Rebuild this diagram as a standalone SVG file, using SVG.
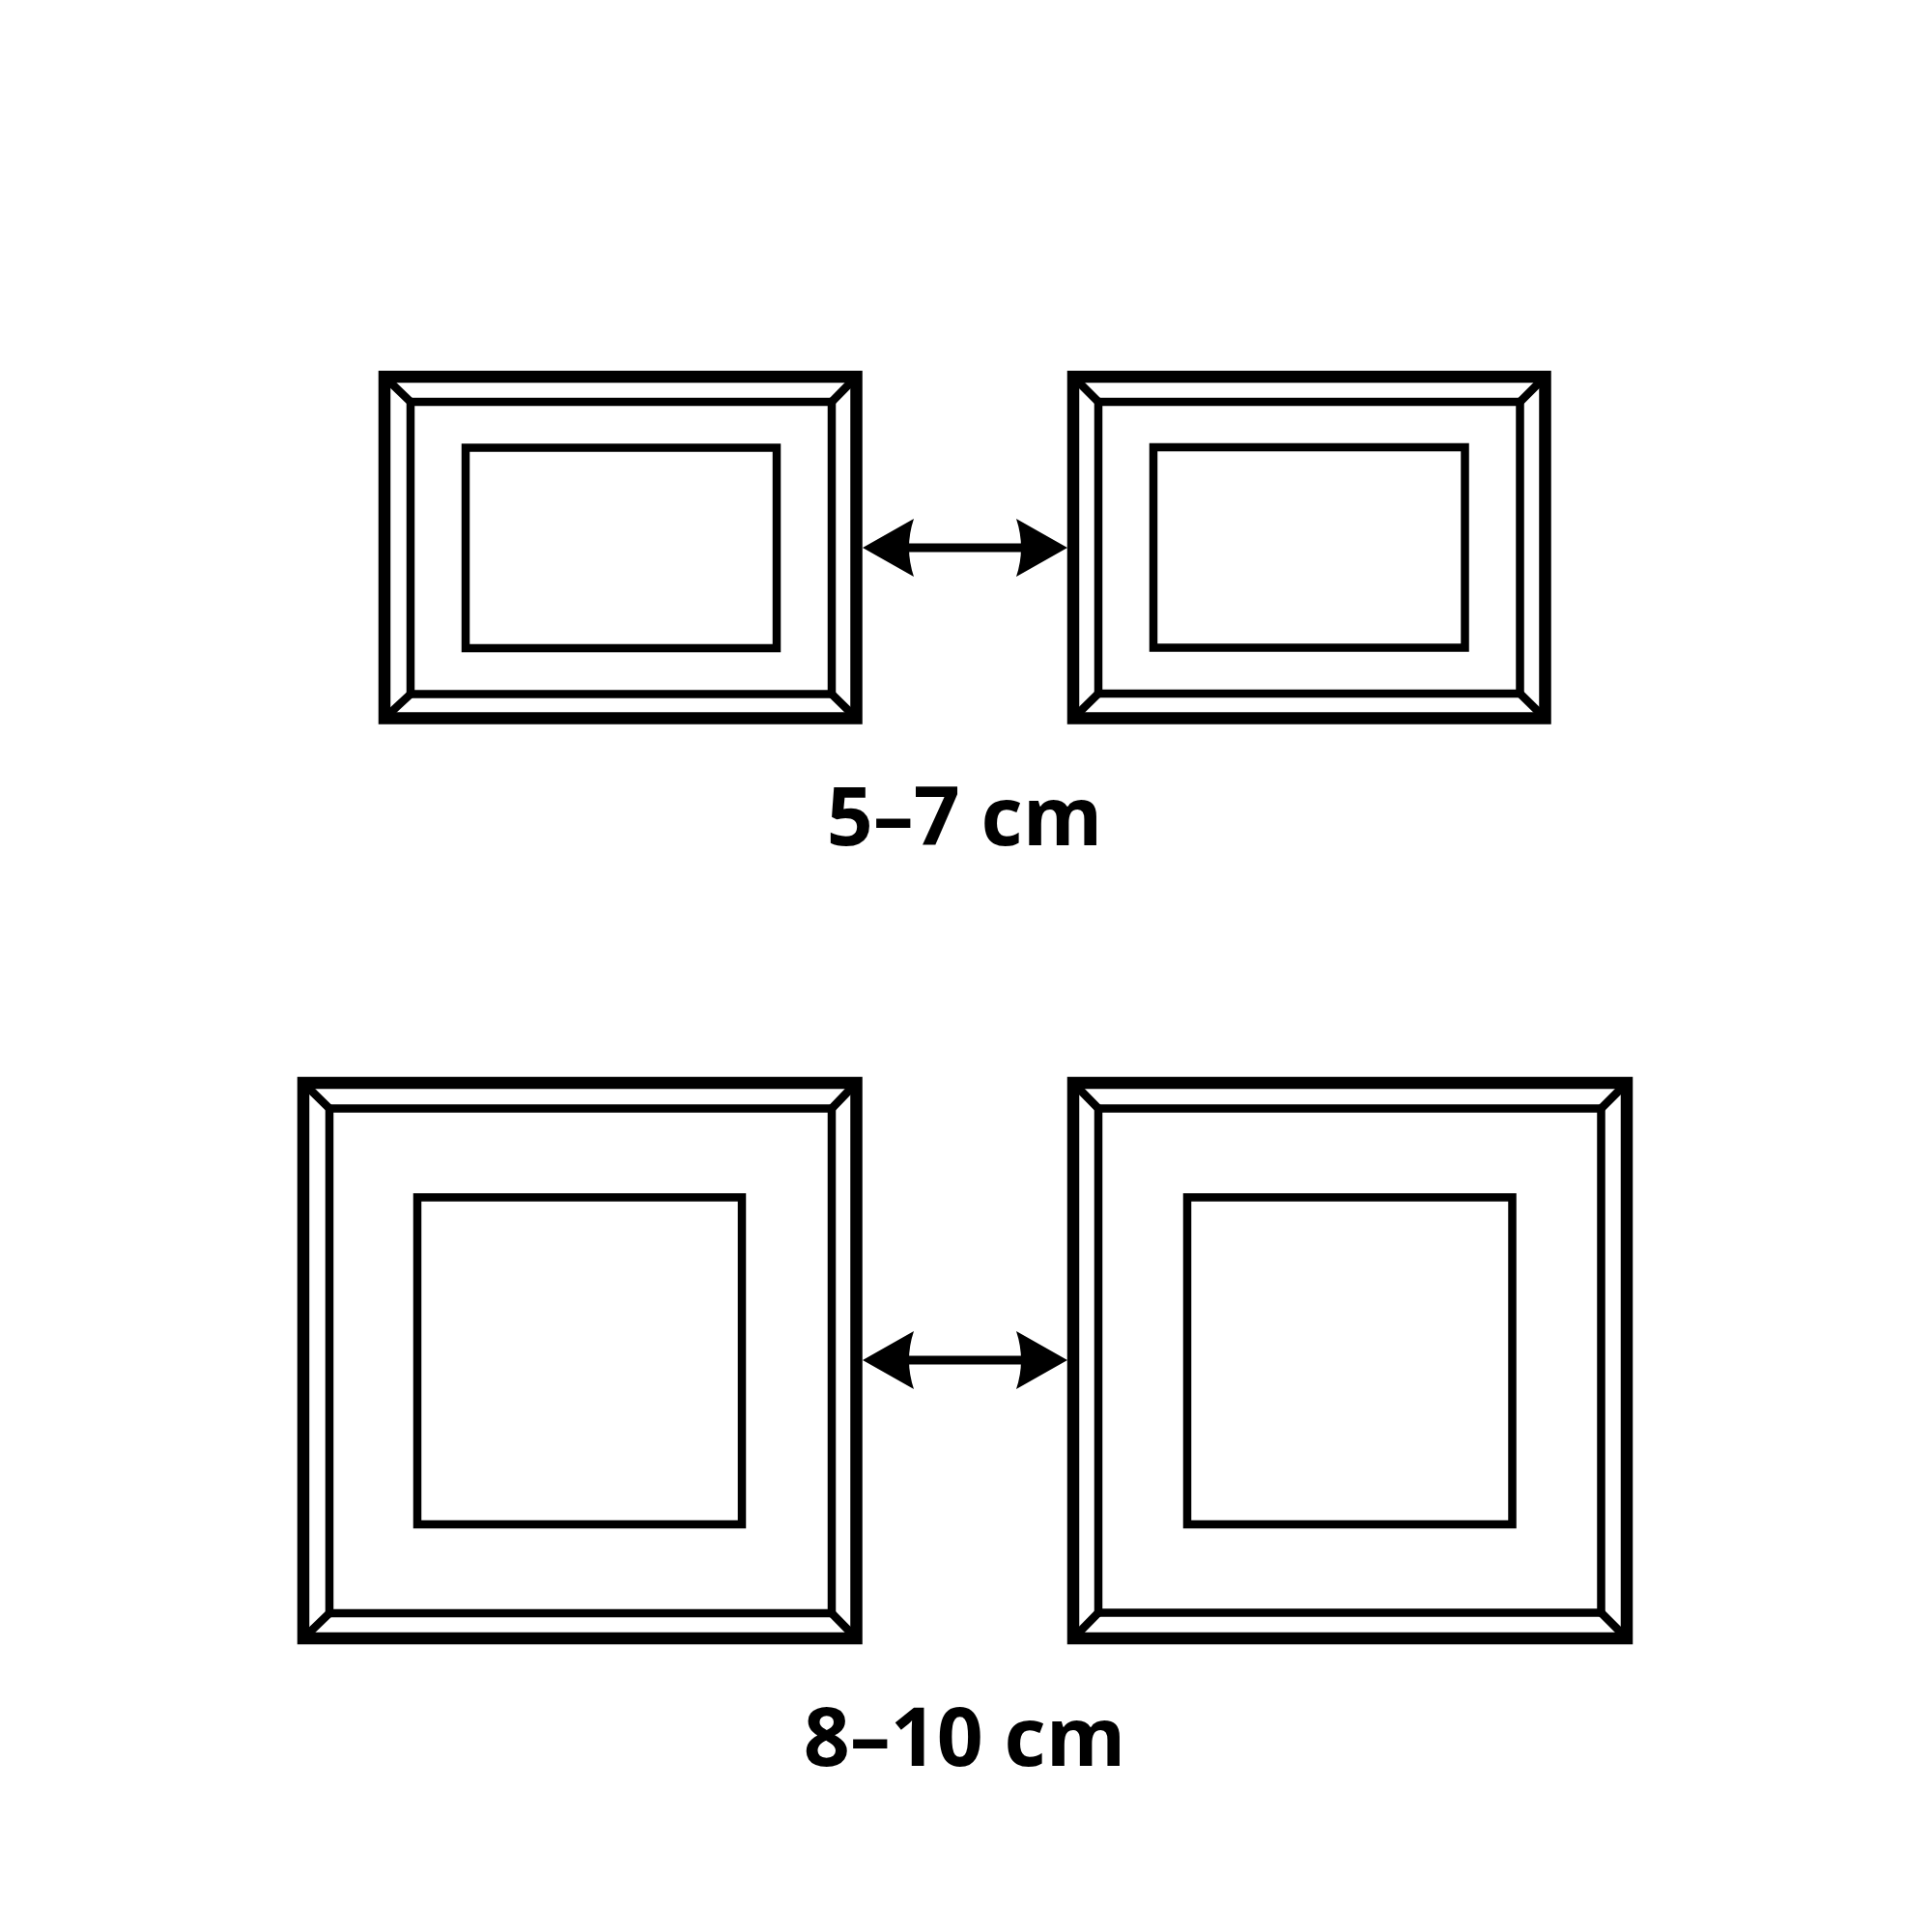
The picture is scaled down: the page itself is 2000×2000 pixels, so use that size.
<svg xmlns="http://www.w3.org/2000/svg" width="2000" height="2000" viewBox="0 0 2000 2000">
<style>
.outer{fill:none;stroke:#000;stroke-width:12.5;stroke-linejoin:miter}
.thin{fill:none;stroke:#000;stroke-width:8.5;stroke-linejoin:miter}
.shaft{stroke:#000;stroke-width:9;fill:none}
.lbl{font-family:"Open Sans","Noto Sans","DejaVu Sans",sans-serif;font-weight:700;font-size:84px;fill:#000;text-anchor:middle}
</style>
<defs>
<marker id="head" markerUnits="userSpaceOnUse" viewBox="0 -31 54 62" markerWidth="54" markerHeight="62" refX="11" refY="0" orient="auto-start-reverse">
<path d="M53,0 L0,-30 Q10,0 0,30 Z" fill="#000"/>
</marker>
</defs>
<rect width="2000" height="2000" fill="#fff"/>
<g id="frame-top-left">
<rect class="outer" x="398" y="390" width="488.5" height="353.5"/>
<rect class="thin" x="425" y="416" width="436" height="302.5"/>
<path class="thin" d="M398,390 L425,416 M886.5,390 L861,416 M398,743.5 L425,718.5 M886.5,743.5 L861,718.5"/>
<rect class="thin" x="482" y="463.5" width="322" height="207.5"/>
</g>
<g id="frame-top-right">
<rect class="outer" x="1111" y="390" width="488.5" height="353.5"/>
<rect class="thin" x="1137" y="416" width="436.5" height="302"/>
<path class="thin" d="M1111,390 L1137,416 M1599.5,390 L1573.5,416 M1111,743.5 L1137,718 M1599.5,743.5 L1573.5,718"/>
<rect class="thin" x="1194" y="463" width="322.5" height="207.5"/>
</g>
<g id="frame-bottom-left">
<rect class="outer" x="314" y="1121" width="572.5" height="575"/>
<rect class="thin" x="341" y="1147.5" width="520" height="522.5"/>
<path class="thin" d="M314,1121 L341,1147.5 M886.5,1121 L861,1147.5 M314,1696 L341,1670 M886.5,1696 L861,1670"/>
<rect class="thin" x="432" y="1239.5" width="336" height="338.5"/>
</g>
<g id="frame-bottom-right">
<rect class="outer" x="1111" y="1121" width="573" height="575"/>
<rect class="thin" x="1137" y="1147.5" width="520.5" height="522"/>
<path class="thin" d="M1111,1121 L1137,1147.5 M1684,1121 L1657.5,1147.5 M1111,1696 L1137,1669.5 M1684,1696 L1657.5,1669.5"/>
<rect class="thin" x="1229" y="1239.5" width="336.5" height="338.5"/>
</g>
<g id="connectors">
<line class="shaft" x1="935" y1="567" x2="1063" y2="567" marker-start="url(#head)" marker-end="url(#head)"/>
<line class="shaft" x1="935" y1="1408" x2="1063" y2="1408" marker-start="url(#head)" marker-end="url(#head)"/>
</g>
<g id="labels">
<text class="lbl" x="998.5" y="875">5–7 cm</text>
<text class="lbl" x="998.5" y="1828">8–10 cm</text>
</g>
</svg>
